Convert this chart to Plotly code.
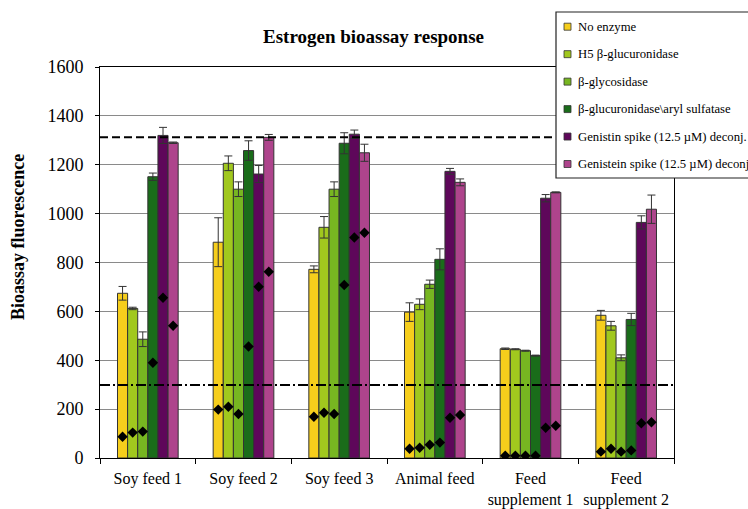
import plotly.graph_objects as go

# Sample categories (x axis)
categories = ["Soy feed 1", "Soy feed 2", "Soy feed 3", "Animal feed",
              "Feed<br>supplement 1", "Feed<br>supplement 2"]

# Treatment series: mean bioassay fluorescence
no_enzyme = [674, 883, 772, 597, 447, 584]
h5_glucuronidase = [612, 1206, 944, 629, 445, 541]
b_glycosidase = [486, 1100, 1100, 711, 439, 410]
glucuronidase_sulfatase = [1151, 1258, 1288, 813, 419, 567]
genistin_spike = [1320, 1162, 1325, 1173, 1063, 964]
genistein_spike = [1290, 1312, 1249, 1128, 1087, 1018]

# Standard deviations
err_no_enzyme = [28, 100, 14, 38, 3, 20]
err_h5 = [5, 30, 44, 22, 2, 18]
err_glycosidase = [30, 30, 30, 17, 2, 12]
err_sulfatase = [15, 40, 43, 43, 2, 25]
err_genistin = [33, 35, 17, 12, 15, 27]
err_genistein = [3, 12, 35, 14, 2, 58]

# Paired point measurements (diamonds) for each treatment
pts_no_enzyme = [87, 198, 169, 38, 9, 26]
pts_h5 = [104, 210, 185, 42, 9, 38]
pts_glycosidase = [108, 180, 180, 54, 9, 26]
pts_sulfatase = [390, 456, 708, 63, 9, 31]
pts_genistin = [656, 701, 902, 165, 124, 142]
pts_genistein = [541, 762, 922, 176, 132, 146]

# Reference levels
upper_level = 1313
lower_level = 299

series_names = ["No enzyme", "H5 β-glucuronidase", "β-glycosidase",
                "β-glucuronidase\\aryl sulfatase",
                "Genistin spike (12.5 µM) deconj.",
                "Genistein spike (12.5 µM) deconj."]
series_values = [no_enzyme, h5_glucuronidase, b_glycosidase,
                 glucuronidase_sulfatase, genistin_spike, genistein_spike]
series_errors = [err_no_enzyme, err_h5, err_glycosidase, err_sulfatase,
                 err_genistin, err_genistein]
series_points = [pts_no_enzyme, pts_h5, pts_glycosidase, pts_sulfatase,
                 pts_genistin, pts_genistein]
colors = ["#F6CE1C", "#A1C81E", "#77B621", "#1A6C1A", "#5E075A", "#AE448C"]

FONT = "Liberation Serif, Times New Roman, serif"

fig = go.Figure()

for i, (name, vals, errs, col) in enumerate(
        zip(series_names, series_values, series_errors, colors)):
    fig.add_trace(go.Bar(
        name=name, x=categories, y=vals,
        marker=dict(color=col, line=dict(color="#333333", width=1)),
        error_y=dict(type="data", array=errs, visible=True,
                     color="#333333", thickness=1, width=4),
        offsetgroup=str(i), alignmentgroup="g",
        showlegend=False,
    ))

for i, pts in enumerate(series_points):
    fig.add_trace(go.Scatter(
        x=categories, y=pts, mode="markers",
        marker=dict(symbol="diamond", size=8, color="black"),
        offsetgroup=str(i), alignmentgroup="g",
        showlegend=False, hoverinfo="y",
    ))

# Horizontal reference lines
fig.add_shape(type="line", xref="paper", yref="y", x0=0, x1=1,
              y0=upper_level, y1=upper_level, layer="above",
              line=dict(color="black", width=2, dash="8px,4px"))
fig.add_shape(type="line", xref="paper", yref="y", x0=0, x1=1,
              y0=lower_level, y1=lower_level, layer="above",
              line=dict(color="black", width=2, dash="10px,3px,2px,3px"))

# Legend box (paper coordinates derived from pixel layout)
W, H = 748, 509
ML, MR, MT, MB = 100, 74, 67, 51
PW, PH = W - ML - MR, H - MT - MB


def px_x(px):
    return (px - ML) / PW


def px_y(py):
    return (H - MB - py) / PH


fig.add_shape(type="rect", xref="paper", yref="paper",
              x0=px_x(556), x1=px_x(770), y0=px_y(178), y1=px_y(12),
              fillcolor="white", line=dict(color="#222222", width=1.2),
              layer="above")
for k, (name, col) in enumerate(zip(series_names, colors)):
    yc = 26.7 + k * 27.46
    fig.add_shape(type="rect", xref="paper", yref="paper",
                  x0=px_x(564), x1=px_x(571), y0=px_y(yc + 3.5), y1=px_y(yc - 3.5),
                  fillcolor=col, line=dict(color="#333333", width=0.8),
                  layer="above")
    fig.add_annotation(xref="paper", yref="paper", x=px_x(576), y=px_y(yc),
                       xanchor="left", yanchor="middle", showarrow=False,
                       text=name, font=dict(family=FONT, size=12.7, color="black"))

# Title and y-axis title
fig.add_annotation(xref="paper", yref="paper", x=px_x(373), y=px_y(36),
                   xanchor="center", yanchor="middle", showarrow=False,
                   text="<b>Estrogen bioassay response</b>",
                   font=dict(family=FONT, size=19, color="black"))
fig.add_annotation(xref="paper", yref="paper", x=px_x(18), y=px_y(237),
                   xanchor="center", yanchor="middle", showarrow=False,
                   textangle=-90, text="<b>Bioassay fluorescence</b>",
                   font=dict(family=FONT, size=18, color="black"))

fig.update_layout(
    width=W, height=H,
    margin=dict(l=ML, r=MR, t=MT, b=MB, autoexpand=False),
    paper_bgcolor="white", plot_bgcolor="white",
    barmode="group", bargap=0.366, bargroupgap=0,
    scattermode="group", scattergap=0.366,
    showlegend=False,
    font=dict(family=FONT, color="black"),
    xaxis=dict(type="category", tickson="boundaries", ticks="outside",
               ticklen=5, tickcolor="black", showline=True, linecolor="black",
               linewidth=1, mirror=True, showgrid=False,
               tickfont=dict(family=FONT, size=16, color="black"),
               ticklabelstandoff=6),
    yaxis=dict(range=[0, 1600], dtick=200, ticks="outside", ticklen=4,
               tickcolor="black", showline=True, linecolor="black",
               linewidth=1, mirror=True, showgrid=True,
               gridcolor="#8a8a8a", gridwidth=1, zeroline=False,
               tickfont=dict(family=FONT, size=18, color="black"),
               ticklabelstandoff=8),
)

fig.write_html("out.html")
